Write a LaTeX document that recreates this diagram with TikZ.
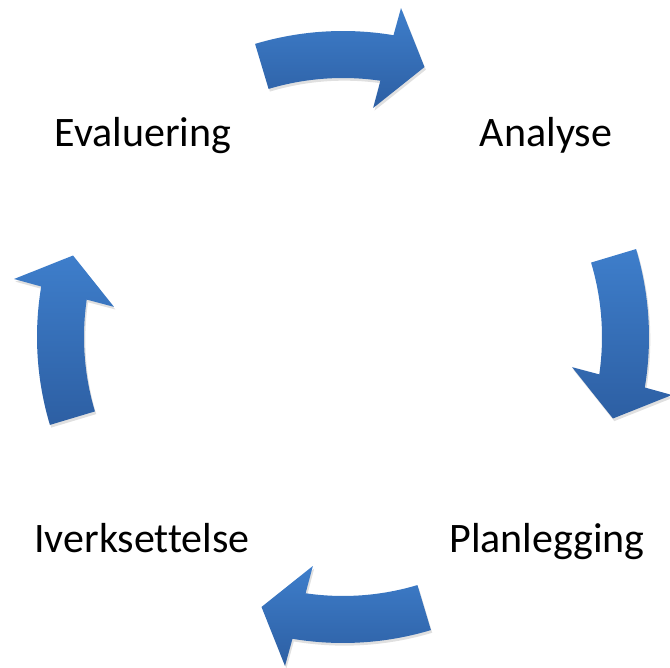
\documentclass[tikz,border=0pt]{standalone}
\usepackage{fontspec}
\setmainfont{Carlito}[Ligatures=NoCommon]
\usetikzlibrary{shadows}

\definecolor{arrowtop}{RGB}{62,126,203}
\definecolor{arrowbottom}{RGB}{45,95,163}

\tikzset{
  arrowfill/.style={top color=arrowtop, bottom color=arrowbottom, draw=none,
    drop shadow={shadow xshift=1pt, shadow yshift=-2pt, opacity=0.12, fill=black}},
  steplabel/.style={anchor=base, inner sep=0pt, font=\fontsize{31.5}{36}\selectfont}
}

\begin{document}
\begin{tikzpicture}[scale=0.026367]
            \useasboundingbox (-343,-331) rectangle (327,337);
            % four curved arrows round the centre, clockwise
            \foreach \a in {90,0,-90,180} {
              \path [arrowfill] (\a+16.7:306)
                arc [start angle=\a+16.7, end angle=\a-9.5, radius=306]
                -- ({\a-10}:334) -- ({\a-16.8}:282) -- ({\a-7.5}:231) -- ({\a-8.3}:259)
                arc [start angle=\a-8.3, end angle=\a+16.7, radius=259] -- cycle;
            }
            \node [steplabel] (analyse) at (203,190) {Analyse};
            \node [steplabel] (planlegging) at (204,-216) {Planlegging};
            \node [steplabel] (iverksettelse) at (-201,-216) {Iverksettelse};
            \node [steplabel] (evaluering) at (-200,190) {Evaluering};
        \end{tikzpicture}
\end{document}
